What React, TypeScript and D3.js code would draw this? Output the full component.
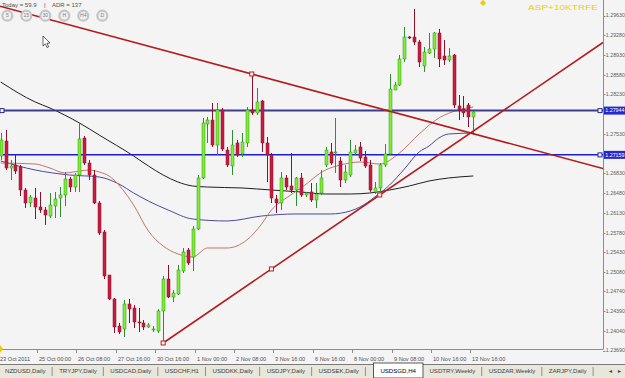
import React, { useMemo } from 'react';
import * as d3 from 'd3';

// ---------- DATA ----------
const opens = [1.27139,1.27405,1.26926,1.26980,1.26944,1.26536,1.26306,1.26394,1.26235,1.26182,1.26075,1.26253,1.26394,1.26448,1.26731,1.26589,1.26802,1.27458,1.27015,1.26802,1.26306,1.25792,1.25029,1.24604,1.24125,1.24072,1.24515,1.24444,1.24196,1.24178,1.24107,1.24054,1.24036,1.24391,1.24958,1.24639,1.24692,1.25100,1.25472,1.25348,1.25845,1.26749,1.27706,1.27777,1.27334,1.27955,1.27245,1.26962,1.27370,1.27175,1.27370,1.27955,1.27902,1.28114,1.27370,1.27157,1.26377,1.26306,1.26749,1.26607,1.26536,1.26749,1.26448,1.26501,1.26359,1.26483,1.26980,1.27210,1.27192,1.27050,1.26714,1.26802,1.27192,1.27299,1.27121,1.26980,1.26501,1.26572,1.26980,1.27175,1.28309,1.28398,1.28859,1.29249,1.29249,1.29160,1.28735,1.28965,1.29036,1.29320,1.28912,1.28841,1.28930,1.28026,1.27972,1.28043,1.27831];
const highs = [1.27547,1.27600,1.27068,1.27157,1.26980,1.26572,1.26448,1.26572,1.26501,1.26235,1.26483,1.26501,1.26589,1.26855,1.26767,1.26838,1.27724,1.27494,1.27068,1.26891,1.26341,1.25827,1.25029,1.24621,1.24178,1.24586,1.24604,1.24497,1.24444,1.24231,1.24178,1.24125,1.24426,1.25012,1.25207,1.24763,1.25207,1.25508,1.25508,1.25898,1.26802,1.27813,1.27831,1.28079,1.28079,1.27990,1.27299,1.27600,1.27423,1.27547,1.28008,1.28593,1.28345,1.28132,1.27476,1.27192,1.26448,1.26855,1.26802,1.27192,1.26767,1.26838,1.26501,1.26660,1.26660,1.26891,1.27299,1.27370,1.27813,1.27121,1.26980,1.27423,1.27334,1.27387,1.27228,1.27068,1.26678,1.27015,1.27352,1.28593,1.28451,1.28930,1.29426,1.29267,1.29745,1.29196,1.29072,1.29320,1.29338,1.29391,1.29196,1.29054,1.28948,1.28221,1.28203,1.28079,1.27937];
const lows = [1.27068,1.26891,1.26714,1.26820,1.26430,1.26217,1.26235,1.26022,1.26129,1.25916,1.26040,1.26040,1.26058,1.26253,1.26501,1.26501,1.26501,1.26980,1.26714,1.26288,1.25738,1.24958,1.24586,1.24001,1.23983,1.23930,1.24178,1.24090,1.24019,1.24054,1.24090,1.24019,1.24001,1.23824,1.24621,1.24551,1.24675,1.25065,1.25207,1.25100,1.25827,1.26731,1.27370,1.27299,1.27157,1.27228,1.26944,1.26802,1.27121,1.27121,1.27299,1.27866,1.27866,1.27210,1.26678,1.26306,1.26129,1.26182,1.26536,1.26483,1.26253,1.26412,1.26412,1.26324,1.26217,1.26448,1.26944,1.26980,1.26838,1.26589,1.26660,1.26767,1.27157,1.27050,1.26926,1.26501,1.26465,1.26412,1.26944,1.27157,1.28309,1.28380,1.28806,1.29214,1.29107,1.28717,1.28628,1.28948,1.28877,1.28717,1.28753,1.28806,1.27990,1.27777,1.27831,1.27653,1.27511];
const closes = [1.27423,1.26926,1.26962,1.26873,1.26536,1.26306,1.26412,1.26235,1.26182,1.26093,1.26270,1.26377,1.26448,1.26731,1.26589,1.26802,1.27441,1.27015,1.26802,1.26306,1.25774,1.25012,1.24604,1.24107,1.24019,1.24515,1.24426,1.24196,1.24178,1.24107,1.24143,1.24072,1.24391,1.24958,1.24639,1.24710,1.25118,1.25437,1.25242,1.25845,1.26749,1.27724,1.27777,1.27334,1.27955,1.27263,1.26980,1.27334,1.27157,1.27387,1.27955,1.27902,1.28097,1.27370,1.27157,1.26394,1.26306,1.26749,1.26589,1.26536,1.26749,1.26448,1.26483,1.26359,1.26465,1.26749,1.27245,1.27015,1.27210,1.26714,1.26855,1.27210,1.27245,1.27104,1.26962,1.26536,1.26572,1.26980,1.27175,1.28327,1.28398,1.28859,1.29249,1.29240,1.29160,1.28806,1.28983,1.29036,1.29320,1.28859,1.28841,1.28912,1.28043,1.27955,1.27902,1.27831,1.27919];

// moving averages (knots: bar index, price)
const maSlowIdx = [0,7,10,16,20,27,30,33,36,39,42,49,55,61,66,71,75,79,83,87,91,96];
const maSlowVal = [1.28451,1.28097,1.27990,1.27724,1.27511,1.27139,1.26962,1.26802,1.26678,1.26607,1.26589,1.26572,1.26536,1.26501,1.26465,1.26465,1.26483,1.26536,1.26607,1.26696,1.26749,1.26785];
const maMidIdx = [0,7,14,20,24,27,30,34,39,46,53,60,67,71,73,76,79,82,85,87,89,91,96];
const maMidVal = [1.27050,1.26891,1.26802,1.26767,1.26643,1.26483,1.26341,1.26182,1.26022,1.25987,1.26075,1.26111,1.26111,1.26164,1.26235,1.26412,1.26625,1.26909,1.27210,1.27316,1.27458,1.27529,1.27547];
const maFastIdx = [0,7,10,13,16,18,20,22,24,27,30,33,36,39,42,46,50,53,55,58,61,66,69,73,77,81,85,89,93,96];
const maFastVal = [1.27015,1.26997,1.26926,1.26838,1.26873,1.26891,1.26855,1.26785,1.26625,1.26270,1.25809,1.25543,1.25402,1.25348,1.25508,1.25508,1.25650,1.25933,1.26182,1.26394,1.26572,1.26891,1.26980,1.27033,1.26997,1.27192,1.27529,1.27813,1.27955,1.28008];

const trendUpIdx = [33, 77];
const trendUpPrice = [1.23824, 1.26448];
const trendDownIdx = [51, 100];
const trendDownPrice = [1.28593, 1.27441];

const hLevels = [1.27944, 1.27159];
const priceTicks = [1.29630,1.29280,1.28930,1.28580,1.28230,1.27530,1.26830,1.26480,1.26130,1.25780,1.25430,1.25080,1.24740,1.24390,1.24040,1.23690];
const dateLabels = ['23 Oct 2011','25 Oct 00:00','26 Oct 08:00','27 Oct 16:00','30 Oct 16:00','1 Nov 00:00','2 Nov 08:00','3 Nov 16:00','6 Nov 16:00','8 Nov 00:00','9 Nov 08:00','10 Nov 16:00','13 Nov 16:00'];
const dateLabelEvery = 8;
const tabs = ['NZDUSD,Daily','TRYJPY,Daily','USDCAD,Daily','USDCHF,H1','USDDKK,Daily','USDJPY,Daily','USDSEK,Daily','USDSGD,H4','USDTRY,Weekly','USDZAR,Weekly','ZARJPY,Daily'];
const activeTab = 'USDSGD,H4';
const tfButtons = ['5','15','30','H','H4','D'];
const todayText = 'Today = 59.9';
const adrText = 'ADR = 137';
const cornerText = 'ASP+10KTRFE';

// ---------- LAYOUT ----------
const W = 625, H = 378;
const CW = 603, CH = 349;
const FONT = "'Liberation Sans', Arial, sans-serif";
const TAB_FONT = 6.1;

function measure(text: string, size: number) {
  try {
    const c = document.createElement('canvas').getContext('2d');
    if (c) { c.font = `${size}px 'Liberation Sans'`; return c.measureText(text).width; }
  } catch (e) {}
  return text.length * size * 0.55;
}

export default function App() {
  const x = d3.scaleLinear().domain([0, 96]).range([0.7, 473.3]);
  const y = d3.scaleLinear().domain([1.23717, 1.29905]).range([CH, 0]);

  const maPath = (idx: number[], val: number[]) =>
    d3.line<number>().x((_, k) => x(idx[k])).y(v => y(v)).curve(d3.curveMonotoneX)(val) || '';

  const linePts = (idx: number[], pr: number[], x0: number, x1: number) => {
    const ax = x(idx[0]), ay = y(pr[0]), bx = x(idx[1]), by = y(pr[1]);
    const s = (by - ay) / (bx - ax);
    return { x1: x0, y1: ay + s * (x0 - ax), x2: x1, y2: ay + s * (x1 - ax) };
  };
  const up = linePts(trendUpIdx, trendUpPrice, x(trendUpIdx[0]), CW);
  const dn = linePts(trendDownIdx, trendDownPrice, 0, CW);
  const upMid = { cx: (x(trendUpIdx[0]) + x(trendUpIdx[1])) / 2, cy: (y(trendUpPrice[0]) + y(trendUpPrice[1])) / 2 };

  const tabLayout = useMemo(() => {
    let cx = 5;
    return tabs.map((t) => {
      const active = t === activeTab;
      if (active) cx += 8;
      const w = measure(t, TAB_FONT);
      const item = { t, x: cx, w, active };
      cx += w + 13.5;
      return item;
    });
  }, []);

  const bullFill = '#7ef02a', bullEdge = '#2f8f2f';
  const bearFill = '#c81a40', bearEdge = '#8a1228';

  return (
    <svg width={W} height={H} style={{ position: 'absolute', left: 0, top: 0, fontFamily: FONT }}>
      <defs>
        <clipPath id="plot"><rect x={0} y={0} width={CW} height={CH} /></clipPath>
      </defs>
      <rect x={0} y={0} width={W} height={H} fill="#f4f4f4" />

      <g clipPath="url(#plot)">
        {/* moving averages */}
        <path d={maPath(maSlowIdx, maSlowVal)} fill="none" stroke="#1e1e1e" strokeWidth={1} />
        <path d={maPath(maMidIdx, maMidVal)} fill="none" stroke="#4a4a9c" strokeWidth={1} />
        <path d={maPath(maFastIdx, maFastVal)} fill="none" stroke="#c0766a" strokeWidth={1} />

        {/* horizontal levels */}
        <line x1={0} x2={CW} y1={y(hLevels[0])} y2={y(hLevels[0])} stroke="#3c3c8e" strokeWidth={2} />
        <line x1={0} x2={CW} y1={y(hLevels[1])} y2={y(hLevels[1])} stroke="#1c1cd2" strokeWidth={1.5} />

        {/* candles */}
        {opens.map((o, i) => {
          const c = closes[i];
          const cx = Math.round(x(i)) + 0.5;
          const bull = c >= o;
          const yt = Math.min(y(o), y(c));
          const hgt = Math.max(1, Math.abs(y(o) - y(c)));
          return (
            <g key={i}>
              <line x1={cx} x2={cx} y1={y(highs[i])} y2={y(lows[i])} stroke={bull ? bullEdge : bearEdge} strokeWidth={1} />
              <rect x={cx - 1.5} y={yt} width={3} height={hgt} fill={bull ? bullFill : bearFill} stroke={bull ? bullEdge : bearEdge} strokeWidth={0.5} />
            </g>
          );
        })}

        {/* trend lines */}
        <line {...dn} stroke="#b41c1c" strokeWidth={1.6} />
        <line {...up} stroke="#b41c1c" strokeWidth={1.6} />
        <rect x={x(trendDownIdx[0]) - 2} y={y(trendDownPrice[0]) - 2} width={4} height={4} fill="#f4f4f4" stroke="#c02020" strokeWidth={1} />
        <rect x={x(trendUpIdx[0]) - 2} y={y(trendUpPrice[0]) - 2} width={4} height={4} fill="#f4f4f4" stroke="#c02020" strokeWidth={1} />
        <rect x={x(trendUpIdx[1]) - 2} y={y(trendUpPrice[1]) - 2} width={4} height={4} fill="#f4f4f4" stroke="#c02020" strokeWidth={1} />
        <rect x={upMid.cx - 2} y={upMid.cy - 2} width={4} height={4} fill="#f4f4f4" stroke="#c02020" strokeWidth={1} />

        {/* level markers */}
        <rect x={0} y={y(hLevels[0]) - 2} width={4} height={4} fill="#f4f4f4" stroke="#2a2a90" strokeWidth={1} />
        {hLevels.map((lv, k) => (
          <rect key={k} x={CW - 5} y={y(lv) - 2} width={4} height={4} fill="#f4f4f4" stroke="#2a2a90" strokeWidth={1} />
        ))}
      </g>

      {/* axes */}
      <line x1={CW + 0.5} x2={CW + 0.5} y1={0} y2={CH} stroke="#8c8c8c" />
      <line x1={0} x2={CW + 0.5} y1={CH + 0.5} y2={CH + 0.5} stroke="#8c8c8c" />
      {priceTicks.map((p) => (
        <g key={p}>
          <line x1={CW} x2={CW + 2.5} y1={Math.round(y(p)) + 0.5} y2={Math.round(y(p)) + 0.5} stroke="#8c8c8c" />
          <text x={CW + 2.8} y={y(p)} dy="0.35em" fontSize={5.3} fill="#606060">{p.toFixed(5)}</text>
        </g>
      ))}
      {hLevels.map((lv) => (
        <g key={lv}>
          <rect x={CW + 1} y={y(lv) - 4} width={W - CW - 1} height={8} fill="#2727d0" />
          <text x={CW + 2.3} y={y(lv)} dy="0.35em" fontSize={5.3} fill="#ffffff">{lv.toFixed(5)}</text>
        </g>
      ))}
      {dateLabels.map((d, k) => {
        const bx = Math.round(x(k * dateLabelEvery));
        return (
          <g key={d}>
            <line x1={bx - 2.5} x2={bx - 2.5} y1={CH} y2={CH + 4} stroke="#8c8c8c" />
            <text x={bx - 1} y={360.5} fontSize={5.6} fill="#505050">{d}</text>
          </g>
        );
      })}

      {/* top-left info */}
      <text x={2} y={7} fontSize={6} fill="#505050">{todayText}</text>
      <text x={44} y={7} fontSize={6} fill="#505050">|</text>
      <text x={52} y={7} fontSize={6} fill="#505050">{adrText}</text>
      {tfButtons.map((b, k) => (
        <g key={b}>
          <circle cx={7.3 + k * 19} cy={15.7} r={5} fill="#f0f0f0" stroke="#c4c4c4" strokeWidth={2.2} />
          <text x={7.3 + k * 19} y={15.7} dy="0.35em" textAnchor="middle" fontSize={5} fill="#6a8290">{b}</text>
        </g>
      ))}
      <text x={528} y={9.5} fontSize={7} fill="#f0d000" textLength={70} lengthAdjust="spacingAndGlyphs">{cornerText}</text>
      <path d="M483,0 L486,3 L483,6 L480,3 Z" fill="#f0c800" />
      <path d="M0,345 L3,349 L0,353 Z" fill="#f0c800" />

      {/* mouse pointer */}
      <path d="M43,36 L43,46 L45.4,43.8 L47,47.5 L48.6,46.8 L47,43.2 L50,43 Z" fill="#ffffff" stroke="#000" strokeWidth={0.6} />

      {/* tabs */}
      <rect x={0} y={364} width={W} height={14} fill="#e9e6dc" />
      <line x1={0} x2={W} y1={364.5} y2={364.5} stroke="#7a7a7a" />
      {tabLayout.map((tb) => (
        <g key={tb.t}>
          {tb.active && <rect x={tb.x - 7} y={363} width={tb.w + 14} height={15} fill="#ffffff" stroke="#333" strokeWidth={0.8} />}
          <text x={tb.x} y={373} fontSize={TAB_FONT} fill={tb.active ? '#000' : '#404040'}>{tb.t}</text>
          {!tb.active && <line x1={tb.x + tb.w + 6.5} x2={tb.x + tb.w + 6.5} y1={367} y2={376} stroke="#909090" />}
        </g>
      ))}
      <text x={608} y={373} fontSize={5} fill="#404040">◄</text>
      <text x={617} y={373} fontSize={5} fill="#404040">►</text>
    </svg>
  );
}
